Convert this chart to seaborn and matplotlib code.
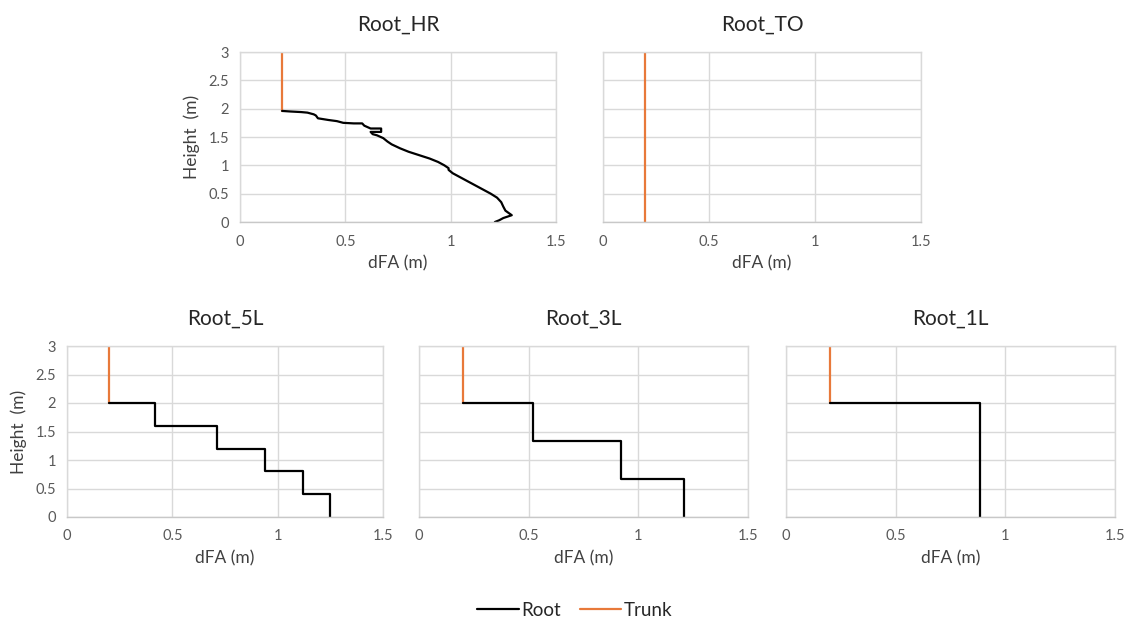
import matplotlib
matplotlib.use("Agg")
import matplotlib.pyplot as plt
from matplotlib.lines import Line2D
import pandas as pd
import seaborn as sns

# ---------------- data ----------------
titles = ["Root_HR", "Root_TO", "Root_5L", "Root_3L", "Root_1L"]

hr_height = [1.96, 1.95, 1.94, 1.93, 1.90, 1.88, 1.83, 1.80, 1.78, 1.75, 1.74, 1.74, 1.70, 1.65, 1.65,
             1.64, 1.59, 1.59, 1.55, 1.53, 1.48, 1.42, 1.37, 1.30, 1.24, 1.18, 1.12, 1.06,
             1.00, 0.95, 0.92, 0.86, 0.80, 0.72, 0.64, 0.56, 0.50, 0.43, 0.35, 0.27, 0.20,
             0.12, 0.07, 0.03, 0.00]
hr_dfa = [0.20, 0.24, 0.29, 0.32, 0.35, 0.36, 0.37, 0.42, 0.46, 0.49, 0.54, 0.58, 0.59, 0.62, 0.67,
          0.67, 0.67, 0.62, 0.63, 0.65, 0.68, 0.70, 0.72, 0.76, 0.80, 0.85, 0.90, 0.94,
          0.97, 0.99, 0.99, 1.01, 1.04, 1.08, 1.12, 1.16, 1.19, 1.22, 1.24, 1.25, 1.26,
          1.29, 1.25, 1.23, 1.21]

l5_height = [2.0, 1.6, 1.2, 0.8, 0.4, 0.0]
l5_dfa = [0.20, 0.42, 0.71, 0.94, 1.12, 1.25]

l3_height = [2.0, 1.333, 0.667, 0.0]
l3_dfa = [0.20, 0.52, 0.92, 1.21]

l1_height = [2.0, 0.0]
l1_dfa = [0.20, 0.885]

trunk_dfa = [0.2, 0.2]
trunk_height_hr = [1.96, 3.0]
trunk_height_to = [0.0, 3.0]
trunk_height = [2.0, 3.0]

x_ticks = [0, 0.5, 1, 1.5]
x_labels = ["0", "0.5", "1", "1.5"]
y_ticks = [0, 0.5, 1, 1.5, 2, 2.5, 3]
y_labels = ["0", "0.5", "1", "1.5", "2", "2.5", "3"]

ROOT_C = "#000000"
TRUNK_C = "#E8793A"
GRID_C = "#D9D9D9"

sns.set_theme(style="white")
plt.rcParams["font.family"] = ["Lato", "DejaVu Sans"]

fig = plt.figure(figsize=(11.3, 6.24), dpi=100)

W, H = 1130, 624
boxes = [
    (240, 52, 556, 222),
    (603, 52, 921, 222),
    (67, 346, 383, 517),
    (419, 346, 748, 517),
    (786, 346, 1115, 517),
]

roots = [(hr_dfa, hr_height, "default"), None, (l5_dfa, l5_height, "steps-post"),
         (l3_dfa, l3_height, "steps-post"), (l1_dfa, l1_height, "steps-post")]
trunks = [trunk_height_hr, trunk_height_to, trunk_height, trunk_height, trunk_height]
show_y = [True, False, True, False, False]

for i, (l, t, r, b) in enumerate(boxes):
    ax = fig.add_axes([l / W, 1 - b / H, (r - l) / W, (b - t) / H])

    tdf = pd.DataFrame({"dfa": trunk_dfa, "h": trunks[i]})
    sns.lineplot(data=tdf, x="dfa", y="h", sort=False, estimator=None,
                 color=TRUNK_C, linewidth=1.6, ax=ax)
    if roots[i] is not None:
        rdf = pd.DataFrame({"dfa": roots[i][0], "h": roots[i][1]})
        sns.lineplot(data=rdf, x="dfa", y="h", sort=False, estimator=None,
                     color=ROOT_C, linewidth=1.6, drawstyle=roots[i][2], ax=ax)

    ax.set_xlim(0, 1.5)
    ax.set_ylim(0, 3)
    ax.set_xticks(x_ticks)
    ax.set_yticks(y_ticks)
    ax.set_xticklabels(x_labels)
    if show_y[i]:
        ax.set_yticklabels(y_labels)
        ax.set_ylabel("Height  (m)", fontsize=12.5, color="#404040", labelpad=6)
    else:
        ax.set_yticklabels([])
        ax.set_ylabel("")
    ax.tick_params(axis="both", length=0, labelsize=10.5, labelcolor="#595959")
    ax.tick_params(axis="x", pad=9)
    ax.tick_params(axis="y", pad=8)
    ax.grid(True, color=GRID_C, linewidth=1.0)
    ax.set_axisbelow(True)
    for s in ax.spines.values():
        s.set_color(GRID_C)
        s.set_linewidth(1.0)
    ax.spines["bottom"].set_color("#C8C8C8")

    ax.set_xlabel("dFA (m)", fontsize=12.5, color="#404040", labelpad=5)
    ax.set_title(titles[i], fontsize=15, color="#262626", pad=15)

handles = [Line2D([], [], color=ROOT_C, linewidth=1.6),
           Line2D([], [], color=TRUNK_C, linewidth=1.6)]
fig.legend(handles, ["Root", "Trunk"], loc="center", bbox_to_anchor=(575 / W, 1 - 610 / H),
           ncol=2, frameon=False, fontsize=13.5, handlelength=2.2, handletextpad=0.15,
           columnspacing=1.0, labelcolor="#262626")

fig.savefig("out.png", dpi=100, facecolor="white")
